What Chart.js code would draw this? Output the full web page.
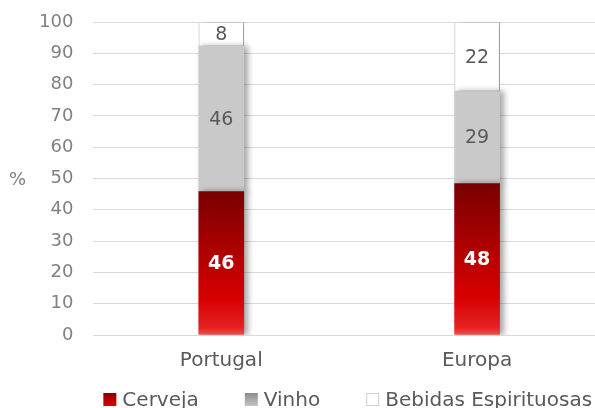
<!DOCTYPE html>
<html lang="pt">
<head>
  <meta charset="UTF-8" />
  <title>Consumo de bebidas alcoólicas</title>
  <script src="https://cdn.jsdelivr.net/npm/chart.js"></script>
  <style>
    html, body {
      margin: 0;
      padding: 0;
      background: #fff;
      overflow: hidden;
    }
    #wrap {
      width: 605px;
      height: 408px;
    }
  </style>
</head>
<body>
  <div id="wrap"><canvas id="chart" width="605" height="408"></canvas></div>

  <script>
    const regions = ['Portugal', 'Europa'];
    const cerveja = [45.8, 48.4];
    const vinho = [46.4, 29.4];
    const espirituosas = [7.8, 22.2];
    const yTicks = [0, 10, 20, 30, 40, 50, 60, 70, 80, 90, 100];

    const font = "'DejaVu Sans', sans-serif";

    // vertical gradient over one stacked segment, from the y scale
    function segGradient(context, stops, fallback) {
      const chart = context.chart;
      const y = chart.scales.y;
      if (!chart.chartArea || !y || context.type !== 'data') return fallback;
      let start = 0;
      for (let d = 0; d < context.datasetIndex; d++) start += chart.data.datasets[d].data[context.dataIndex];
      const end = start + chart.data.datasets[context.datasetIndex].data[context.dataIndex];
      const top = y.getPixelForValue(end);
      const base = y.getPixelForValue(start);
      if (!isFinite(top) || !isFinite(base) || top === base) return fallback;
      const g = chart.ctx.createLinearGradient(0, top, 0, base);
      stops.forEach(s => g.addColorStop(s[0], s[1]));
      return g;
    }

    const redStops = [[0, '#7a0000'], [0.4, '#ac0000'], [0.75, '#d80000'], [0.95, '#e42222'], [1, '#f05050']];

    const barShadow = {
      id: 'barShadow',
      beforeDatasetsDraw(chart) {
        const ctx = chart.ctx;
        ctx.save();
        ctx.shadowColor = 'rgba(0,0,0,0.35)';
        ctx.shadowBlur = 6;
        ctx.shadowOffsetX = 4;
        ctx.shadowOffsetY = 0;
      },
      afterDatasetsDraw(chart) {
        chart.ctx.restore();
      }
    };

    const valueLabels = {
      id: 'valueLabels',
      afterDatasetsDraw(chart) {
        const ctx = chart.ctx;
        ctx.save();
        ctx.textAlign = 'center';
        ctx.textBaseline = 'middle';
        chart.data.datasets.forEach((ds, i) => {
          const meta = chart.getDatasetMeta(i);
          meta.data.forEach((el, j) => {
            const v = Math.round(ds.data[j]);
            ctx.font = (i === 0 ? 'bold ' : '') + '19px ' + font;
            ctx.fillStyle = i === 0 ? '#ffffff' : '#595959';
            ctx.fillText(String(v), el.x, (el.y + el.base) / 2 + 1);
          });
        });
        // axis caption "%" (horizontal, left of the ticks)
        const area = chart.chartArea;
        ctx.font = '18px ' + font;
        ctx.fillStyle = '#7f7f7f';
        ctx.textAlign = 'left';
        ctx.fillText('%', 9, (area.top + area.bottom) / 2 + 2);
        ctx.restore();
      }
    };

    // legend drawn under the x labels, Excel style spacing
    const legendColors = [
      ['#e00000', '#8a0000'],
      ['#c8c8c8', '#8c8c8c'],
      ['#ffffff', '#ffffff']
    ];
    const bottomLegend = {
      id: 'bottomLegend',
      afterDraw(chart) {
        const ctx = chart.ctx;
        const area = chart.chartArea;
        ctx.save();
        ctx.font = '20px ' + font;
        ctx.textBaseline = 'middle';
        ctx.textAlign = 'left';
        const cy = chart.height - 8;
        let x = area.left + 10;
        chart.data.datasets.forEach((ds, i) => {
          const g = ctx.createLinearGradient(0, cy - 7, 0, cy + 7);
          g.addColorStop(0, legendColors[i][1]);
          g.addColorStop(1, legendColors[i][0]);
          ctx.fillStyle = i === 2 ? '#ffffff' : g;
          ctx.fillRect(x, cy - 7, 13, 13);
          if (i === 2) {
            ctx.strokeStyle = '#d0d0d0';
            ctx.lineWidth = 1;
            ctx.strokeRect(x + 0.5, cy - 6.5, 12, 12);
          }
          ctx.fillStyle = '#595959';
          ctx.fillText(ds.label, x + 19, cy + 1);
          x += 19 + ctx.measureText(ds.label).width + 46;
        });
        ctx.restore();
      }
    };

    new Chart(document.getElementById('chart'), {
      type: 'bar',
      data: {
        labels: regions,
        datasets: [
          {
            label: 'Cerveja',
            data: cerveja,
            backgroundColor: c => segGradient(c, redStops, '#c00000'),
            borderWidth: 0
          },
          {
            label: 'Vinho',
            data: vinho,
            backgroundColor: '#c9c9c9',
            borderWidth: 0
          },
          {
            label: 'Bebidas Espirituosas',
            data: espirituosas,
            backgroundColor: '#ffffff',
            borderColor: '#d6d6d6',
            borderWidth: 1
          }
        ]
      },
      options: {
        responsive: false,
        animation: false,
        datasets: {
          bar: {
            barThickness: 45,
            borderSkipped: false
          }
        },
        layout: {
          padding: { top: 22, left: 35, right: 0, bottom: 29 }
        },
        plugins: {
          legend: { display: false },
          tooltip: { enabled: false }
        },
        scales: {
          x: {
            stacked: true,
            grid: { display: false, drawTicks: true, tickLength: 8 },
            border: { display: false },
            ticks: {
              font: { family: font, size: 20 },
              color: '#595959',
              padding: 6
            }
          },
          y: {
            stacked: true,
            min: 0,
            max: 100,
            afterBuildTicks(axis) {
              axis.ticks = yTicks.map(v => ({ value: v }));
            },
            border: { display: false },
            grid: {
              color: '#d9d9d9',
              drawTicks: true,
              tickLength: 16,
              tickColor: 'rgba(0,0,0,0)'
            },
            ticks: {
              font: { family: font, size: 18 },
              color: '#808080',
              padding: 4
            }
          }
        }
      },
      plugins: [barShadow, valueLabels, bottomLegend]
    });
  </script>
</body>
</html>
